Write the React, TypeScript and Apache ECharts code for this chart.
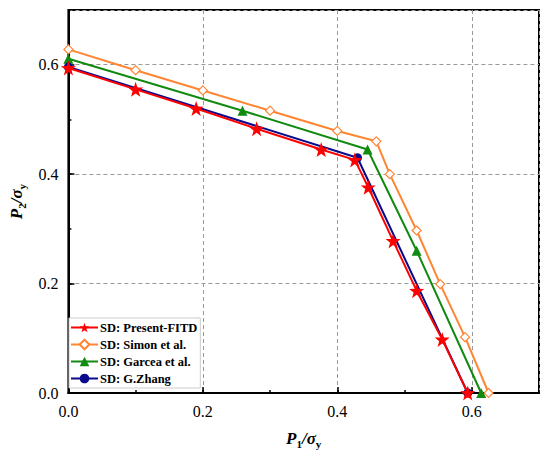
import React, { useEffect, useRef } from "react";
import * as echarts from "echarts";

const presentX = [0, 0.1, 0.19, 0.28, 0.376, 0.426, 0.446, 0.483, 0.518, 0.556, 0.594];
const presentY = [0.594, 0.555, 0.52, 0.483, 0.445, 0.426, 0.376, 0.278, 0.187, 0.098, 0];
const simonX = [0, 0.1, 0.2, 0.3, 0.4, 0.458, 0.478, 0.518, 0.553, 0.59, 0.625];
const simonY = [0.628, 0.59, 0.553, 0.516, 0.479, 0.46, 0.4, 0.297, 0.199, 0.102, 0];
const garceaX = [0, 0.259, 0.445, 0.518, 0.614];
const garceaY = [0.611, 0.516, 0.445, 0.26, 0];
const zhangX = [0, 0.43, 0.594];
const zhangY = [0.596, 0.43, 0];

const seriesNames = ["SD: Present-FITD", "SD: Simon et al.", "SD: Garcea et al.", "SD: G.Zhang"];
const axisTicks = [0, 0.2, 0.4, 0.6];

const FONT = "Liberation Serif, Times New Roman, serif";
const STAR =
  "path://M0,-10 L2.35,-3.24 L9.51,-3.09 L3.8,1.24 L5.88,8.09 L0,4 L-5.88,8.09 L-3.8,1.24 L-9.51,-3.09 L-2.35,-3.24 Z";

const pairs = (xs: number[], ys: number[]) => xs.map((x, i) => [x, ys[i]]);

const nameRich = {
  p: { fontFamily: FONT, fontSize: 17, fontWeight: "bold", fontStyle: "italic", color: "#000", lineHeight: 22 },
  s: { fontFamily: FONT, fontSize: 11, fontWeight: "bold", color: "#000", lineHeight: 10, verticalAlign: "bottom" },
};

export default function App() {
  const ref = useRef<HTMLDivElement>(null);
  useEffect(() => {
    document.body.style.margin = "0";
    const chart = echarts.init(ref.current!, null, { renderer: "svg" });
    const mainAxis = (name: string, gap: number) => ({
      type: "value",
      min: 0,
      max: 0.7,
      interval: 0.2,
      name,
      nameLocation: "middle",
      nameGap: gap,
      nameTextStyle: { rich: nameRich },
      axisLine: { show: true, onZero: false, lineStyle: { color: "#000", width: 2 } },
      axisTick: { show: true, inside: true, length: 6, lineStyle: { color: "#000", width: 1.5 } },
      axisLabel: {
        showMaxLabel: false,
        formatter: (v: number) => (axisTicks.some((t) => Math.abs(t - v) < 1e-6) ? v.toFixed(1) : ""),
        fontFamily: FONT,
        fontSize: 16,
        color: "#000",
        margin: 10,
      },
      splitLine: { show: true, lineStyle: { type: [4, 3], color: "#999", width: 1 } },
    });
    const minorAxis = (position: string) => ({
      type: "value",
      min: 0,
      max: 0.7,
      interval: 0.1,
      position,
      axisLine: { show: false },
      axisTick: { show: true, inside: true, length: 3, lineStyle: { color: "#000", width: 1.5 } },
      axisLabel: { show: false },
      splitLine: { show: false },
    });
    const xMain: any = { ...mainAxis("{p|P}{s|1}{p|/σ}{s|y}", 34), position: "bottom" };
    const yMain: any = { ...mainAxis("{p|P}{s|2}{p|/σ}{s|y}", 36), position: "left", nameRotate: 90 };
    chart.setOption({
      animation: false,
      textStyle: { fontFamily: FONT },
      grid: { left: 63, right: 11, top: 10, bottom: 60, show: true, borderColor: "#000", borderWidth: 2 },
      xAxis: [xMain, minorAxis("bottom")],
      yAxis: [yMain, minorAxis("left")],
      legend: {
        data: seriesNames,
        orient: "vertical",
        left: 69,
        top: 318,
        padding: [3, 3, 3, 1],
        itemGap: 4,
        itemWidth: 27,
        itemHeight: 12,
        borderColor: "#ccc",
        borderWidth: 1,
        backgroundColor: "#fff",
        textStyle: { fontFamily: FONT, fontWeight: "bold", fontSize: 12.5, color: "#000", padding: [0, 0, 0, -3] },
      },
      series: [
        {
          name: seriesNames[0],
          type: "line",
          data: pairs(presentX, presentY),
          symbol: STAR,
          symbolSize: 15,
          color: "#FF0000",
          lineStyle: { width: 2, color: "#FF0000" },
          itemStyle: { color: "#FF0000" },
          z: 3,
        },
        {
          name: seriesNames[1],
          type: "line",
          data: pairs(simonX, simonY),
          symbol: "diamond",
          symbolSize: 9,
          showAllSymbol: true,
          color: "#FF8533",
          lineStyle: { width: 2, color: "#FF8533" },
          itemStyle: { color: "#fff", borderColor: "#FF8533", borderWidth: 1.2 },
          z: 2,
        },
        {
          name: seriesNames[2],
          type: "line",
          data: pairs(garceaX, garceaY),
          symbol: "triangle",
          symbolSize: 10,
          color: "#118A11",
          lineStyle: { width: 2, color: "#118A11" },
          itemStyle: { color: "#118A11" },
          z: 2,
        },
        {
          name: seriesNames[3],
          type: "line",
          data: pairs(zhangX, zhangY),
          symbol: "circle",
          symbolSize: 9,
          color: "#0A0A8C",
          lineStyle: { width: 2, color: "#0A0A8C" },
          itemStyle: { color: "#0A0A8C" },
          z: 2,
        },
      ],
    });
    return () => chart.dispose();
  }, []);
  return <div ref={ref} style={{ width: 550, height: 454 }} />;
}
